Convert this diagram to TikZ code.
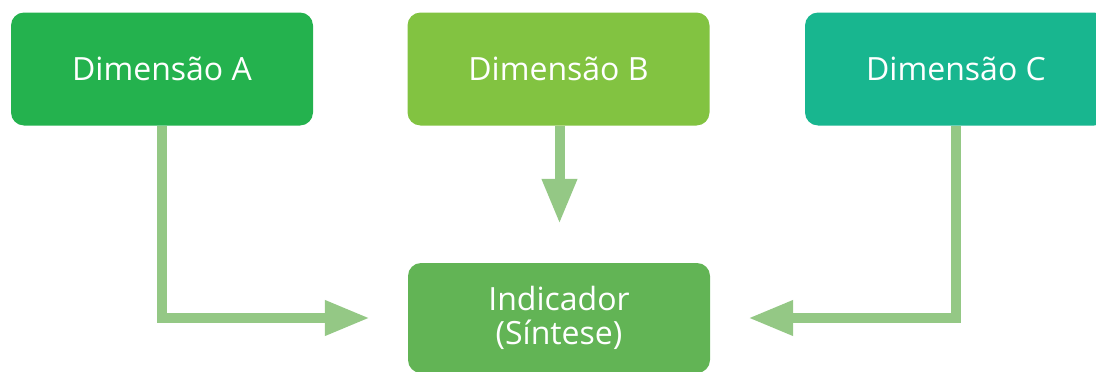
\documentclass[tikz,border=0pt]{standalone}
\usepackage{fontspec}
\setmainfont{Open Sans}
\usetikzlibrary{arrows.meta}
\definecolor{colA}{HTML}{24B24E}
\definecolor{colB}{HTML}{82C341}
\definecolor{colC}{HTML}{18B68F}
\definecolor{colI}{HTML}{62B455}
\definecolor{colArr}{HTML}{94C885}
\tikzset{
  dimbox/.style={rectangle, rounded corners=13pt, minimum width=302pt, minimum height=113pt,
    inner sep=0pt, text=white, align=center, font=\fontsize{32}{34}\selectfont},
  flow/.style={draw=colArr, line width=10pt, -{Triangle[length=45pt,width=33pt]}}
}
\begin{document}
\begin{tikzpicture}[x=1pt,y=-1pt]
\useasboundingbox (0,0) rectangle (1096,372);
\node[dimbox, fill=colA] (A) at (162,69) {Dimensão A};
\node[dimbox, fill=colB] (B) at (558.5,69) {Dimensão B};
\node[dimbox, fill=colC] (C) at (956,69) {Dimensão C};
\node[dimbox, fill=colI, minimum height=110pt] (I) at (559,318) {Indicador\\(Síntese)};
\draw[flow, shorten >=38pt] (A.south) |- (I.west);
\draw[flow, shorten >=39pt] ([xshift=1pt]B.south) -- ([xshift=1pt]B.south |- I.north);
\draw[flow, shorten >=38pt] (C.south) |- (I.east);
\end{tikzpicture}
\end{document}
